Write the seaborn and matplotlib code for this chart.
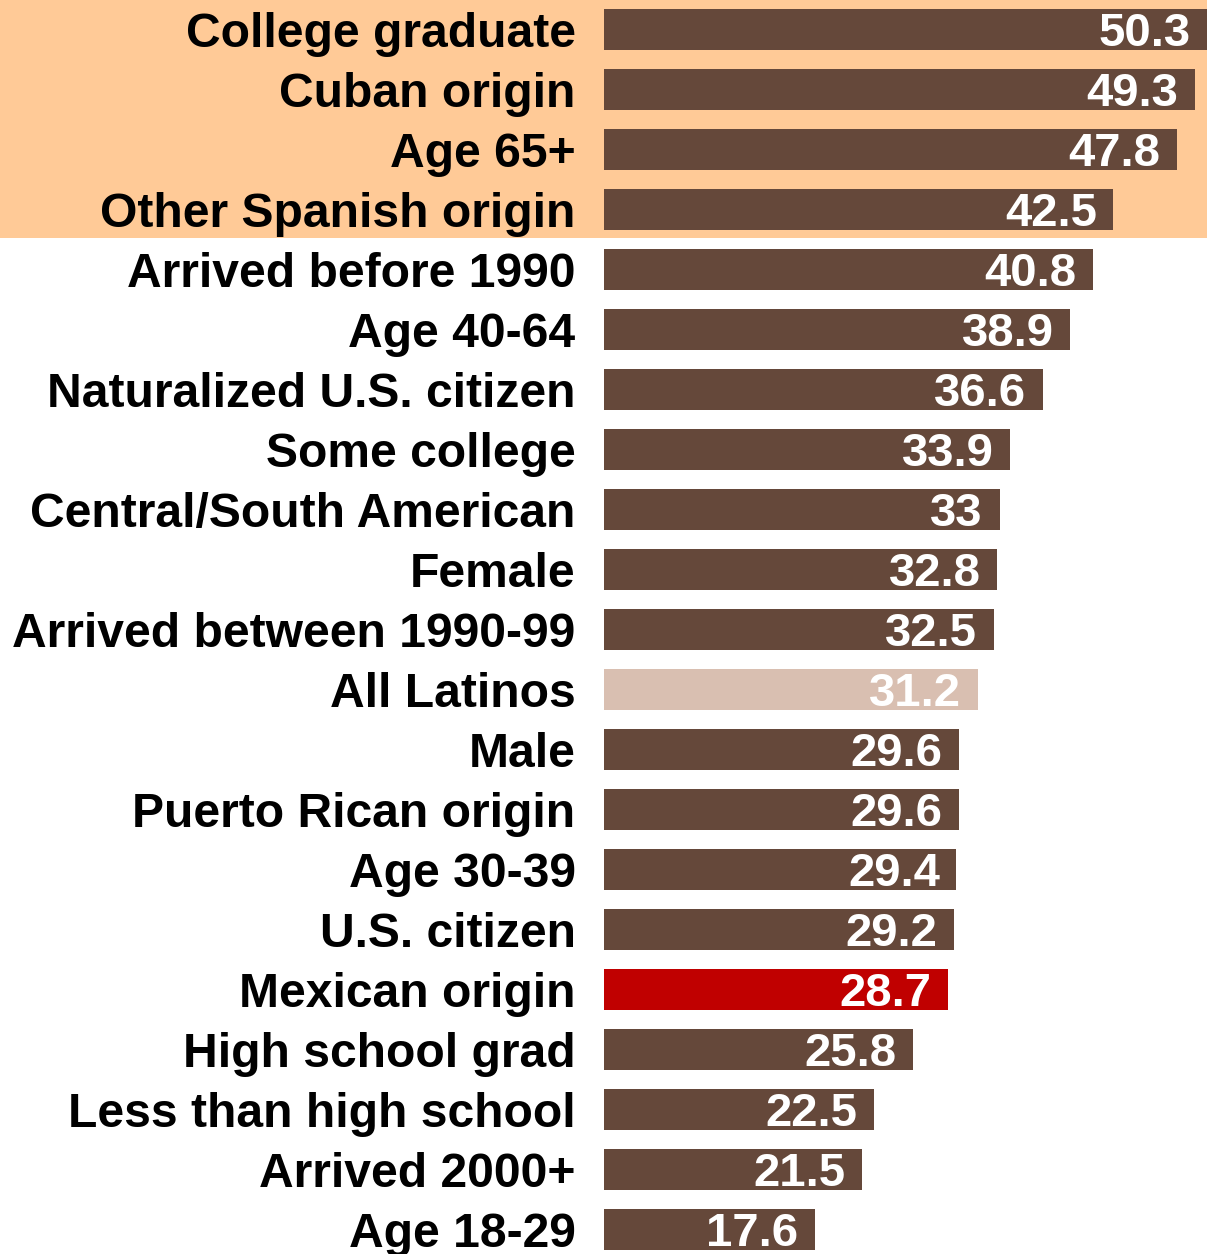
import matplotlib
matplotlib.use("Agg")
import matplotlib.pyplot as plt
from matplotlib.patches import Rectangle
import pandas as pd
import seaborn as sns

# data (top to bottom)
groups = ["College graduate", "Cuban origin", "Age 65+", "Other Spanish origin",
          "Arrived before 1990", "Age 40-64", "Naturalized U.S. citizen",
          "Some college", "Central/South American", "Female",
          "Arrived between 1990-99", "All Latinos", "Male", "Puerto Rican origin",
          "Age 30-39", "U.S. citizen", "Mexican origin", "High school grad",
          "Less than high school", "Arrived 2000+", "Age 18-29"]
values = [50.3, 49.3, 47.8, 42.5, 40.8, 38.9, 36.6, 33.9, 33, 32.8, 32.5,
          31.2, 29.6, 29.6, 29.4, 29.2, 28.7, 25.8, 22.5, 21.5, 17.6]
highlighted = ["College graduate", "Cuban origin", "Age 65+", "Other Spanish origin"]

brown = "#65483a"
peach = "#ffca97"
colors = {g: brown for g in groups}
colors["All Latinos"] = "#d9bfb1"
colors["Mexican origin"] = "#c00000"

df = pd.DataFrame({"group": groups, "value": values})

sns.set_style("white")
plt.rcParams["font.family"] = ["Liberation Sans", "DejaVu Sans"]

W, H = 1207, 1254
fig = plt.figure(figsize=(W / 100, H / 100), dpi=100)
# axes: bars start at x=604px, rows are 60px apart starting at the top
ax = fig.add_axes([604 / W, (H - 1259.5) / H, 603 / W, 1260 / H])
ax.patch.set_alpha(0)

sns.barplot(data=df, x="value", y="group", hue="group", palette=colors,
            orient="h", width=0.667, legend=False, saturation=1,
            linewidth=0, ax=ax)

ax.set_xlim(0, 50.3)
ax.set_ylim(len(groups) - 0.5, -0.5)
ax.set_xlabel("")
ax.set_ylabel("")
ax.set_xticks([])
sns.despine(ax=ax, left=True, bottom=True)
ax.tick_params(axis="y", length=0, pad=20.5)
for lab in ax.get_yticklabels():
    lab.set_fontsize(34.6)
    lab.set_fontweight("bold")
    lab.set_color("black")

# values inside the bars
for i, v in enumerate(values):
    ax.annotate(f"{v:g}", xy=(v, i), xytext=(-12, -3), textcoords="offset points",
                ha="right", va="center", color="white", fontsize=34,
                fontweight="bold")

# peach band behind the highlighted rows
n = len(highlighted)
band_h = (60 * n - 2.5) / H
fig.patches.append(Rectangle((0, 1 - band_h), 1, band_h, transform=fig.transFigure,
                             facecolor=peach, edgecolor="none", zorder=-1))

fig.savefig("out.png", dpi=100)
